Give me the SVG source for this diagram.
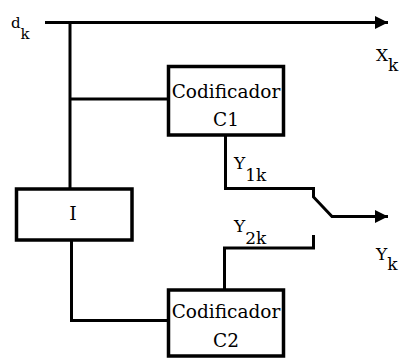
<svg xmlns="http://www.w3.org/2000/svg" width="399" height="360" viewBox="0 0 399 360">
<style>
.box{fill:#fff;stroke:#000;stroke-width:3.5}
.ln{fill:none;stroke:#000;stroke-width:3;stroke-linejoin:miter}
.t{font-family:"DejaVu Serif","Liberation Serif",serif;fill:#000}
.bt{font-size:18.5px;text-anchor:middle}
.lb{font-size:17px}
</style>
<defs>
<marker id="arr" markerUnits="userSpaceOnUse" markerWidth="14" markerHeight="14" refX="13" refY="7" orient="auto">
<path d="M0,0.5 L13,7 L0,13.5 z" fill="#000"/>
</marker>
</defs>
<g id="connectors">
<path class="ln" d="M45,22.5 H388" marker-end="url(#arr)"/>
<path class="ln" d="M70,22.5 V189"/>
<path class="ln" d="M70,99 H168.5"/>
<path class="ln" d="M71.5,240 V320.5 H168.5"/>
<path class="ln" d="M225.5,135 V188.5 H313.5 V197 L332,216.5 H388" marker-end="url(#arr)"/>
<path class="ln" d="M313.5,235 V248 H224.5 V290"/>
</g>
<g id="I">
<rect class="box" x="16.5" y="189" width="115.5" height="51"/>
<text class="t" x="73" y="220" font-size="19" text-anchor="middle">I</text>
</g>
<g id="C1">
<rect class="box" x="168.5" y="66.5" width="115" height="68.5"/>
<text class="t bt" x="226" y="98">Codificador</text>
<text class="t bt" x="226" y="126">C1</text>
</g>
<g id="C2">
<rect class="box" x="168.5" y="290" width="115" height="66"/>
<text class="t bt" x="226" y="318">Codificador</text>
<text class="t bt" x="226" y="347">C2</text>
</g>
<g id="labels">
<text class="t" x="11" y="28" font-size="15">d<tspan dy="11">k</tspan></text>
<text class="t lb" x="376" y="61">X<tspan dy="10">k</tspan></text>
<text class="t lb" x="234" y="169">Y<tspan dy="12">1k</tspan></text>
<text class="t lb" x="234" y="232">Y<tspan dy="12">2k</tspan></text>
<text class="t lb" x="376" y="260">Y<tspan dy="10">k</tspan></text>
</g>
</svg>
